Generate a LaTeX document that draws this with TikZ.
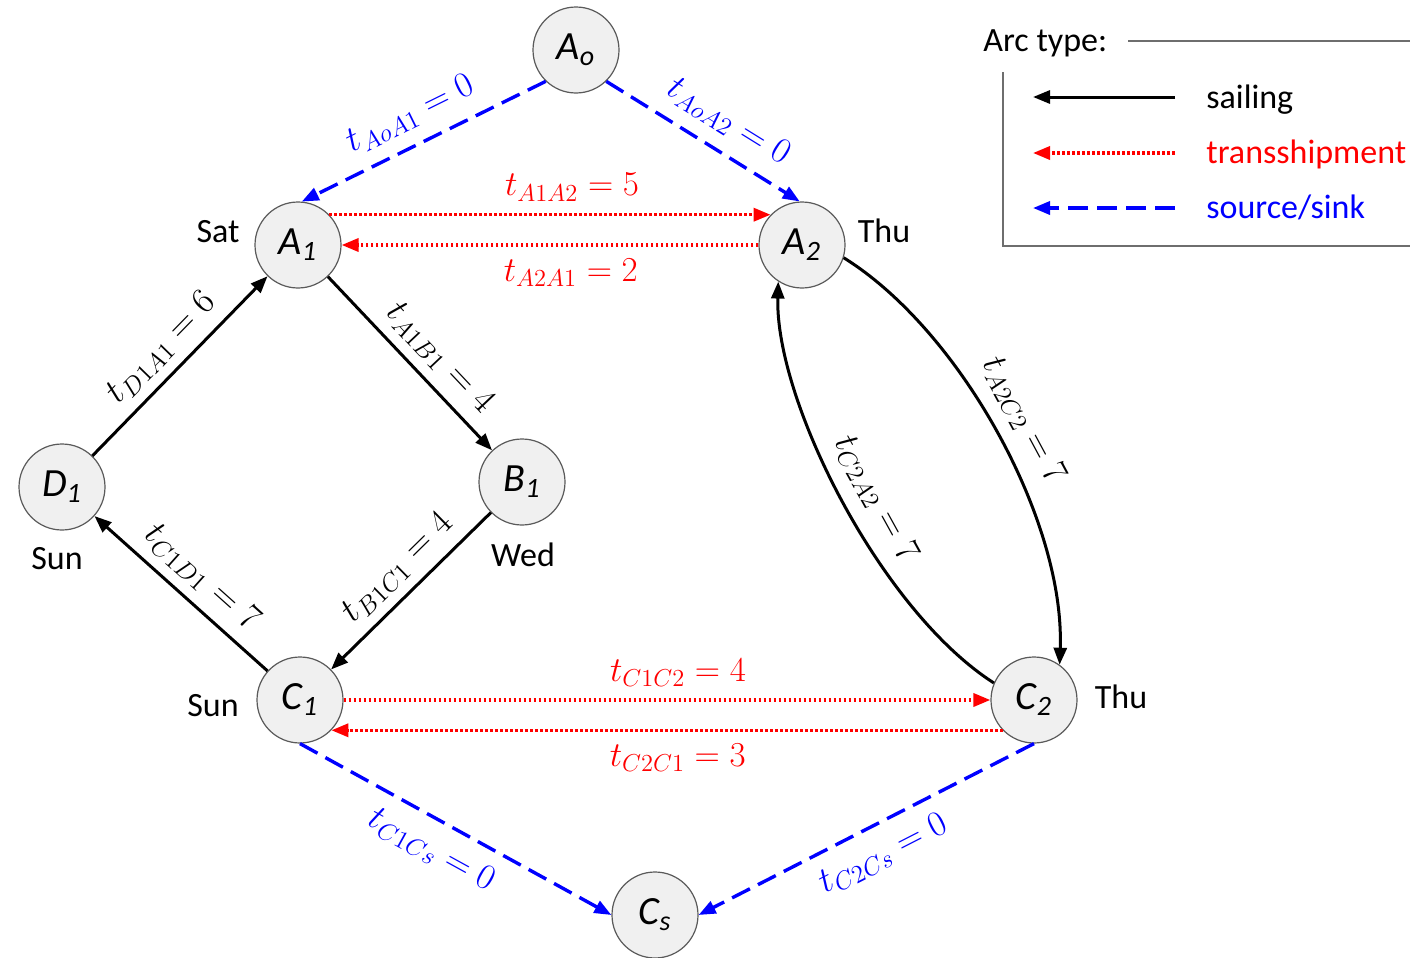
\RequirePackage{fix-cm}
\documentclass[tikz,border=0pt]{standalone}
\usepackage{fontspec}
\setmainfont{Carlito}
\usetikzlibrary{arrows.meta}
\definecolor{nodefill}{RGB}{240,240,240}
\definecolor{nodeborder}{RGB}{90,90,90}
\definecolor{legline}{RGB}{110,110,110}
\definecolor{myblue}{RGB}{0,0,255}
\definecolor{myred}{RGB}{255,0,0}
\begin{document}
\begin{tikzpicture}[x=0.5pt,y=-0.5pt,
  >={Triangle[length=8.5pt,width=6.5pt]},
  state/.style={circle, draw=nodeborder, line width=0.6pt, fill=nodefill,
    minimum size=43pt, inner sep=0pt, font=\fontsize{20}{24}\selectfont\itshape},
  daylbl/.style={font=\fontsize{17}{20}\selectfont, inner sep=0pt},
  sail/.style={->, draw=black, line width=1.5pt},
  trans/.style={->, draw=myred, line width=1.7pt, dash pattern=on 1.3pt off 1.2pt},
  src/.style={->, draw=myblue, line width=1.7pt, dash pattern=on 10pt off 4.5pt},
  blk/.style={font=\fontsize{18}{21}\selectfont, text=black, inner sep=2pt},
  redlbl/.style={font=\fontsize{17.5}{21}\selectfont, text=myred, inner sep=2pt},
  bluelbl/.style={font=\fontsize{18}{21}\selectfont, text=myblue, inner sep=2pt},
  legendline/.style={draw=legline, line width=0.8pt},
]
\useasboundingbox (0,0) rectangle (1410,958);

% nodes
\node[state] (Ao) at (576,50) {A\textsubscript{o}};
\node[state] (A1) at (298,245) {A\textsubscript{1}};
\node[state] (A2) at (802,245) {A\textsubscript{2}};
\node[state] (D1) at (62,487) {D\textsubscript{1}};
\node[state] (B1) at (522,482) {B\textsubscript{1}};
\node[state] (C1) at (300,700) {C\textsubscript{1}};
\node[state] (C2) at (1034,700) {C\textsubscript{2}};
\node[state] (Cs) at (655,915) {C\textsubscript{s}};

% day labels
\node[daylbl] (dSat) at (218,232) {Sat};
\node[daylbl] (dThuA) at (884,231) {Thu};
\node[daylbl] (dSunD) at (57,559) {Sun};
\node[daylbl] (dWed) at (523,555) {Wed};
\node[daylbl] (dSunC) at (213,706) {Sun};
\node[daylbl] (dThuC) at (1121,697) {Thu};

% source/sink arcs
\draw[src] (Ao.-134) -- node[bluelbl, sloped, above=5pt, pos=0.5] {$t_{AoA1}=0$} (A1.85);
\draw[src] (Ao.-46) -- node[bluelbl, sloped, above=5pt, pos=0.55] {$t_{AoA2}=0$} (A2.93);
\draw[src] (C1.south) -- node[bluelbl, sloped, below=5pt, pos=0.47] {$t_{C1Cs}=0$} (Cs.west);
\draw[src] (C2.south) -- node[bluelbl, sloped, below=5pt, pos=0.49] {$t_{C2Cs}=0$} (Cs.east);

% transshipment arcs
\draw[trans] (A1.44) -- node[redlbl, above=4pt, pos=0.55] {$t_{A1A2}=5$} (A2.136);
\draw[trans] (A2.west) -- node[redlbl, below=4pt, pos=0.45] {$t_{A2A1}=2$} (A1.east);
\draw[trans] (C1.east) -- node[redlbl, above=4pt, pos=0.517] {$t_{C1C2}=4$} (C2.west);
\draw[trans] (C2.-136) -- node[redlbl, below=4pt, pos=0.484] {$t_{C2C1}=3$} (C1.-44);

% sailing arcs
\draw[sail] (D1) -- node[blk, sloped, above=3pt, pos=0.5] {$t_{D1A1}=6$} (A1);
\draw[sail] (A1) -- node[blk, sloped, above=3pt, pos=0.57] {$t_{A1B1}=4$} (B1);
\draw[sail] (B1) -- node[blk, sloped, above=3pt, pos=0.47] {$t_{B1C1}=4$} (C1);
\draw[sail] (C1) -- node[blk, sloped, above=3pt, pos=0.48] {$t_{C1D1}=7$} (D1);
\draw[sail] (A2.-17) .. controls (960,330) and (1065,520) .. (C2.54)
  node[blk, sloped, above=5pt, pos=0.5] {$t_{A2C2}=7$};
\draw[sail] (C2.157) .. controls (880,610) and (775,400) .. (A2.237)
  node[blk, sloped, above=5pt, pos=0.47] {$t_{C2A2}=7$};

% legend
\node[daylbl, anchor=base west] (arc) at (983,52) {Arc type:};
\coordinate (lgTopL) at (1128,41);
\coordinate (lgTopR) at (1410,41);
\coordinate (lgVT) at (1003,72);
\coordinate (lgVB) at (1003,246);
\coordinate (lgBR) at (1410,246);
\draw[legendline] (lgTopL) -- (lgTopR);
\draw[legendline] (lgVT) -- (lgVB) -- (lgBR);

\coordinate (l1a) at (1175,97); \coordinate (l1b) at (1033,97);
\coordinate (l2a) at (1175,153); \coordinate (l2b) at (1033,153);
\coordinate (l3a) at (1175,208); \coordinate (l3b) at (1033,208);
\draw[sail] (l1a) -- (l1b);
\draw[trans] (l2a) -- (l2b);
\draw[src] (l3a) -- (l3b);
\node[daylbl, anchor=base west] (lsail) at (1206,108) {sailing};
\node[daylbl, anchor=base west, text=myred] (ltrans) at (1206,163) {transshipment};
\node[daylbl, anchor=base west, text=myblue] (lsrc) at (1206,218) {source/sink};
\end{tikzpicture}
\end{document}
